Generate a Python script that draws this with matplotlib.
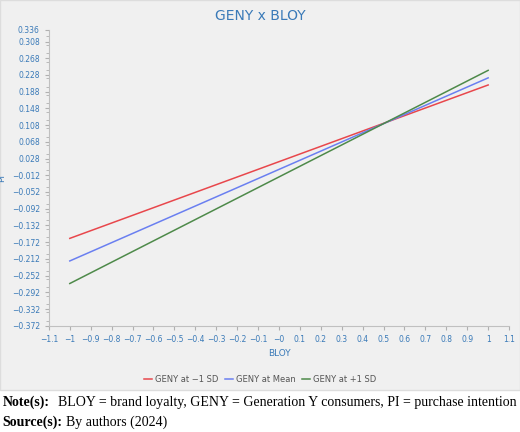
import matplotlib
matplotlib.use("Agg")
import matplotlib.pyplot as plt
from matplotlib.patches import Rectangle
from matplotlib.ticker import MultipleLocator, FixedLocator
import numpy as np

bloy = [-1, 1]
low_sd = [-0.163, 0.204]
mean = [-0.217, 0.221]
high_sd = [-0.271, 0.239]
series_names = ["GENY at \u22121 SD", "GENY at Mean", "GENY at +1 SD"]
colors = ["#e8474c", "#6a7ff0", "#4e8a4a"]
ytick_vals = [round(-0.372 + 0.04 * k, 3) for k in range(18)] + [0.336]
xtick_vals = [round(-1.1 + 0.1 * k, 1) for k in range(23)]

tc = "#3a7ab8"
fig = plt.figure(figsize=(5.2, 4.32), dpi=100)
bg = Rectangle((0, 0.097), 1, 0.903, transform=fig.transFigure,
               facecolor="#f0f0f0", edgecolor="#dddddd", zorder=-10)
fig.add_artist(bg)
ax = fig.add_axes([0.094, 0.246, 0.885, 0.685])
ax.set_zorder(5)
ax.set_facecolor("#f0f0f0")
for ys, name, c in zip([low_sd, mean, high_sd], series_names, colors):
    ax.plot(bloy, ys, color=c, lw=1.1, label=name)
ax.set_xlim(-1.1, 1.1)
ax.set_ylim(-0.372, 0.336)
ax.yaxis.set_major_locator(FixedLocator(ytick_vals))
ax.yaxis.set_minor_locator(MultipleLocator(0.02))
ax.xaxis.set_major_locator(FixedLocator(xtick_vals))
def fmt(v):
    s = f"{v:g}"
    return s.replace("-", "\u2212")
ax.set_yticklabels([fmt(v) for v in ytick_vals])
ax.set_xticklabels(["\u22120" if abs(v) < 1e-9 else fmt(v) for v in xtick_vals])
ax.tick_params(colors="#b0b0b0", labelcolor=tc, labelsize=5.5, length=3)
ax.tick_params(which="minor", colors="#b0b0b0", length=2)
for s in ["top", "right"]:
    ax.spines[s].set_visible(False)
ax.spines["left"].set_color("#c0c0c0")
ax.spines["bottom"].set_color("#c0c0c0")
ax.set_xlabel("BLOY", color=tc, fontsize=6.5)
ax.set_ylabel("PI", color=tc, fontsize=6.5)
fig.text(0.5, 0.962, "GENY x BLOY", color=tc, fontsize=10, ha="center", va="center")
fig.legend(loc="center", bbox_to_anchor=(0.5, 0.122), ncol=3, frameon=False,
           fontsize=6, labelcolor="#555555", handlelength=1.0, handletextpad=0.3,
           columnspacing=0.8)
fig.text(0.005, 0.068, "Note(s):", fontsize=10, family="Liberation Serif", weight="bold", va="center")
fig.text(0.112, 0.068, "BLOY = brand loyalty, GENY = Generation Y consumers, PI = purchase intention",
         fontsize=10, family="Liberation Serif", va="center")
fig.text(0.005, 0.022, "Source(s):", fontsize=10, family="Liberation Serif", weight="bold", va="center")
fig.text(0.127, 0.022, "By authors (2024)", fontsize=10, family="Liberation Serif", va="center")
fig.savefig("out.png", dpi=100)
